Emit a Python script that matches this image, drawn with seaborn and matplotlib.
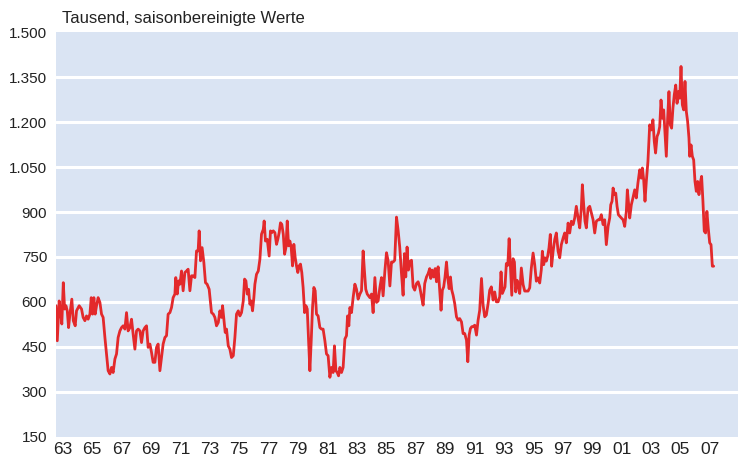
import numpy as np
import pandas as pd
import seaborn as sns
from matplotlib import pyplot as plt
from matplotlib.ticker import FixedLocator, FuncFormatter

# Verkaufte neue Einfamilienhaeuser (USA), Tausend, saisonbereinigt
# values (decimal year, value)
years = [
    1963.03, 1963.12, 1963.25, 1963.34, 1963.43, 1963.53, 1963.62, 1963.71, 1963.80, 1963.89,
    1963.98, 1964.11, 1964.21, 1964.34, 1964.43, 1964.61, 1964.77, 1964.88, 1965.00, 1965.11,
    1965.22, 1965.34, 1965.43, 1965.52, 1965.61, 1965.70, 1965.79, 1965.90, 1966.02, 1966.13,
    1966.24, 1966.36, 1966.47, 1966.58, 1966.70, 1966.81, 1966.92, 1967.04, 1967.15, 1967.26,
    1967.38, 1967.49, 1967.60, 1967.72, 1967.83, 1967.94, 1968.06, 1968.17, 1968.28, 1968.40,
    1968.51, 1968.62, 1968.74, 1968.85, 1968.96, 1969.08, 1969.19, 1969.30, 1969.42, 1969.53,
    1969.64, 1969.76, 1969.87, 1969.98, 1970.10, 1970.21, 1970.32, 1970.44, 1970.55, 1970.66,
    1970.78, 1970.89, 1971.00, 1971.12, 1971.18, 1971.28, 1971.37, 1971.46, 1971.57, 1971.68,
    1971.80, 1971.91, 1972.02, 1972.14, 1972.25, 1972.36, 1972.48, 1972.59, 1972.70, 1972.77,
    1972.86, 1972.97, 1973.09, 1973.20, 1973.31, 1973.45, 1973.61, 1973.73, 1973.84, 1973.95,
    1974.07, 1974.18, 1974.29, 1974.36, 1974.45, 1974.54, 1974.63, 1974.75, 1974.86, 1974.97,
    1975.09, 1975.20, 1975.31, 1975.43, 1975.54, 1975.65, 1975.77, 1975.86, 1975.95, 1976.04,
    1976.13, 1976.22, 1976.31, 1976.40, 1976.49, 1976.56, 1976.67, 1976.79, 1976.90, 1977.01,
    1977.13, 1977.19, 1977.28, 1977.40, 1977.53, 1977.62, 1977.71, 1977.81, 1977.92, 1978.03,
    1978.12, 1978.21, 1978.30, 1978.39, 1978.49, 1978.58, 1978.67, 1978.76, 1978.85, 1978.94,
    1979.03, 1979.12, 1979.21, 1979.30, 1979.39, 1979.48, 1979.57, 1979.66, 1979.75, 1979.84,
    1979.94, 1980.03, 1980.12, 1980.21, 1980.30, 1980.39, 1980.48, 1980.57, 1980.66, 1980.75,
    1980.86, 1980.98, 1981.09, 1981.20, 1981.32, 1981.43, 1981.54, 1981.66, 1981.77, 1981.88,
    1981.97, 1982.07, 1982.16, 1982.25, 1982.34, 1982.45, 1982.56, 1982.68, 1982.79, 1982.86,
    1982.95, 1983.02, 1983.13, 1983.24, 1983.36, 1983.47, 1983.58, 1983.70, 1983.81, 1983.92,
    1984.01, 1984.10, 1984.20, 1984.29, 1984.38, 1984.49, 1984.60, 1984.72, 1984.83, 1984.94,
    1985.06, 1985.17, 1985.28, 1985.40, 1985.51, 1985.62, 1985.74, 1985.85, 1985.96, 1986.07,
    1986.19, 1986.30, 1986.41, 1986.53, 1986.64, 1986.73, 1986.82, 1986.91, 1987.00, 1987.09,
    1987.21, 1987.32, 1987.43, 1987.55, 1987.66, 1987.77, 1987.89, 1988.00, 1988.11, 1988.23,
    1988.34, 1988.45, 1988.52, 1988.61, 1988.72, 1988.82, 1988.91, 1989.02, 1989.13, 1989.22,
    1989.31, 1989.40, 1989.49, 1989.59, 1989.68, 1989.77, 1989.86, 1989.95, 1990.04, 1990.15,
    1990.27, 1990.38, 1990.49, 1990.61, 1990.72, 1990.83, 1990.95, 1991.04, 1991.13, 1991.22,
    1991.31, 1991.40, 1991.51, 1991.63, 1991.74, 1991.85, 1991.97, 1992.08, 1992.19, 1992.30,
    1992.42, 1992.53, 1992.64, 1992.76, 1992.87, 1992.98, 1993.10, 1993.21, 1993.30, 1993.39,
    1993.48, 1993.57, 1993.66, 1993.76, 1993.85, 1993.94, 1994.03, 1994.12, 1994.21, 1994.30,
    1994.39, 1994.48, 1994.57, 1994.68, 1994.80, 1994.91, 1995.14, 1995.25, 1995.36, 1995.48,
    1995.59, 1995.70, 1995.82, 1995.93, 1996.04, 1996.11, 1996.20, 1996.29, 1996.38, 1996.47,
    1996.56, 1996.65, 1996.74, 1996.84, 1996.95, 1997.06, 1997.18, 1997.29, 1997.40, 1997.52,
    1997.63, 1997.74, 1997.86, 1997.97, 1998.08, 1998.20, 1998.31, 1998.42, 1998.54, 1998.65,
    1998.76, 1998.83, 1998.92, 1999.01, 1999.10, 1999.22, 1999.33, 1999.44, 1999.56, 1999.67,
    1999.78, 1999.90, 2000.01, 2000.12, 2000.24, 2000.35, 2000.46, 2000.58, 2000.69, 2000.76,
    2000.85, 2000.92, 2001.01, 2001.10, 2001.19, 2001.28, 2001.37, 2001.48, 2001.60, 2001.71,
    2001.82, 2001.89, 2001.98, 2002.05, 2002.16, 2002.27, 2002.39, 2002.50, 2002.61, 2002.73,
    2002.84, 2002.91, 2003.00, 2003.09, 2003.18, 2003.29, 2003.41, 2003.52, 2003.63, 2003.72,
    2003.81, 2003.91, 2004.00, 2004.09, 2004.18, 2004.27, 2004.36, 2004.45, 2004.54, 2004.63,
    2004.72, 2004.81, 2004.90, 2004.99, 2005.08, 2005.18, 2005.27, 2005.36, 2005.45, 2005.54,
    2005.63, 2005.72, 2005.81, 2005.90, 2005.99, 2006.08, 2006.13, 2006.22, 2006.31, 2006.40,
    2006.49, 2006.58, 2006.67, 2006.76, 2006.85, 2006.94, 2007.03, 2007.12, 2007.21, 2007.30,
    2007.39, 2007.49, 2007.58, 2007.67, 2007.76,
]
sales = [
    587, 470, 603, 570, 526, 664, 576, 587, 570, 514,
    559, 609, 537, 520, 570, 587, 576, 548, 537, 553,
    542, 559, 614, 559, 614, 559, 587, 614, 598, 559,
    548, 481, 426, 370, 359, 381, 364, 409, 426, 481,
    503, 514, 520, 509, 564, 503, 514, 542, 492, 442,
    503, 509, 503, 464, 503, 514, 520, 448, 459, 431,
    398, 398, 448, 459, 370, 414, 459, 481, 487, 559,
    564, 581, 614, 626, 681, 626, 670, 659, 703, 637,
    698, 703, 709, 637, 687, 687, 681, 770, 770, 837,
    737, 781, 731, 664, 659, 642, 564, 559, 548, 520,
    531, 570, 548, 587, 542, 498, 509, 453, 442, 414,
    420, 481, 559, 570, 553, 564, 603, 676, 670, 626,
    642, 592, 603, 570, 614, 659, 692, 703, 742, 826,
    842, 870, 803, 809, 753, 837, 831, 837, 831, 792,
    809, 831, 864, 859, 826, 759, 781, 870, 787, 803,
    781, 720, 792, 748, 720, 698, 720, 726, 698, 648,
    564, 587, 576, 470, 370, 470, 581, 648, 637, 559,
    553, 514, 509, 509, 470, 426, 420, 348, 381, 364,
    453, 370, 364, 353, 381, 364, 381, 476, 487, 553,
    520, 581, 564, 614, 659, 642, 609, 626, 637, 770,
    703, 642, 626, 620, 614, 626, 564, 681, 598, 603,
    648, 681, 620, 703, 764, 737, 653, 733, 733, 739,
    883, 839, 783, 694, 622, 761, 683, 783, 706, 733,
    739, 650, 639, 661, 667, 650, 617, 589, 661, 683,
    694, 711, 678, 706, 683, 711, 667, 717, 639, 572,
    639, 650, 683, 733, 678, 644, 683, 639, 622, 594,
    550, 539, 544, 533, 494, 494, 472, 400, 489, 511,
    517, 517, 522, 489, 539, 572, 678, 589, 550, 556,
    594, 639, 650, 606, 633, 600, 600, 617, 700, 628,
    639, 650, 728, 722, 811, 717, 622, 744, 733, 633,
    672, 656, 628, 713, 658, 636, 636, 647, 713, 763,
    724, 669, 680, 663, 708, 769, 724, 747, 736, 752,
    780, 825, 719, 769, 808, 830, 769, 747, 791, 813,
    830, 797, 863, 830, 869, 858, 880, 919, 880, 847,
    913, 991, 924, 869, 847, 913, 919, 897, 874, 830,
    869, 874, 874, 891, 858, 874, 791, 852, 880, 924,
    936, 980, 958, 963, 919, 891, 886, 880, 874, 852,
    902, 974, 924, 880, 924, 947, 974, 947, 997, 1041,
    1013, 1047, 1008, 936, 1002, 1069, 1191, 1174, 1208, 1136,
    1097, 1152, 1163, 1185, 1274, 1213, 1241, 1163, 1086, 1213,
    1302, 1191, 1180, 1247, 1291, 1324, 1263, 1302, 1280, 1386,
    1258, 1241, 1336, 1236, 1202, 1147, 1086, 1124, 1086, 1074,
    1002, 969, 1002, 958, 997, 1019, 936, 836, 830, 902,
    847, 797, 791, 719, 719,
]

y_ticks = [150, 300, 450, 600, 750, 900, 1050, 1200, 1350, 1500]
year_labels = list(range(1963, 2008, 2))

df = pd.DataFrame({'year': years, 'sales': sales})

sns.set_style('white')
plt.rcParams['font.family'] = ['Liberation Sans', 'DejaVu Sans']

fig = plt.figure(figsize=(7.4, 4.62), dpi=100)
ax = fig.add_axes([0.075, 0.055, 0.922, 0.875])
ax.set_facecolor('#dae4f3')

# white horizontal grid lines (not at the frame edges)
for v in y_ticks[1:-1]:
    ax.axhline(v, color='white', lw=2.2, zorder=1)

sns.lineplot(data=df, x='year', y='sales', color='#e3292b', lw=2.0,
             estimator=None, ax=ax, zorder=3)

ax.set_xlim(1963, 2009.4)
ax.set_ylim(150, 1500)
for s in ax.spines.values():
    s.set_visible(False)

ax.set_yticks(y_ticks)
ax.yaxis.set_major_formatter(FuncFormatter(lambda v, p: f'{int(v):,}'.replace(',', '.')))
ax.tick_params(axis='y', length=0, pad=6, labelsize=11, labelcolor='#222222')

# tick marks at year boundaries, labels centred on odd years
ax.xaxis.set_major_locator(FixedLocator(range(1964, 2010)))
ax.xaxis.set_minor_locator(FixedLocator([y + 0.5 for y in year_labels]))
ax.xaxis.set_major_formatter(FuncFormatter(lambda v, p: ''))
ax.xaxis.set_minor_formatter(FuncFormatter(lambda v, p: f'{int(v) % 100:02d}'))
ax.tick_params(axis='x', which='major', direction='in', length=4, width=1.2, color='white')
ax.tick_params(axis='x', which='minor', length=0, pad=4, labelsize=12.5, labelcolor='#222222')

ax.set_xlabel('')
ax.set_ylabel('')
fig.text(62 / 740, 1 - 18 / 462, 'Tausend, saisonbereinigte Werte', ha='left', va='center',
         fontsize=12, color='#222222')

fig.savefig('out.png', dpi=100)
